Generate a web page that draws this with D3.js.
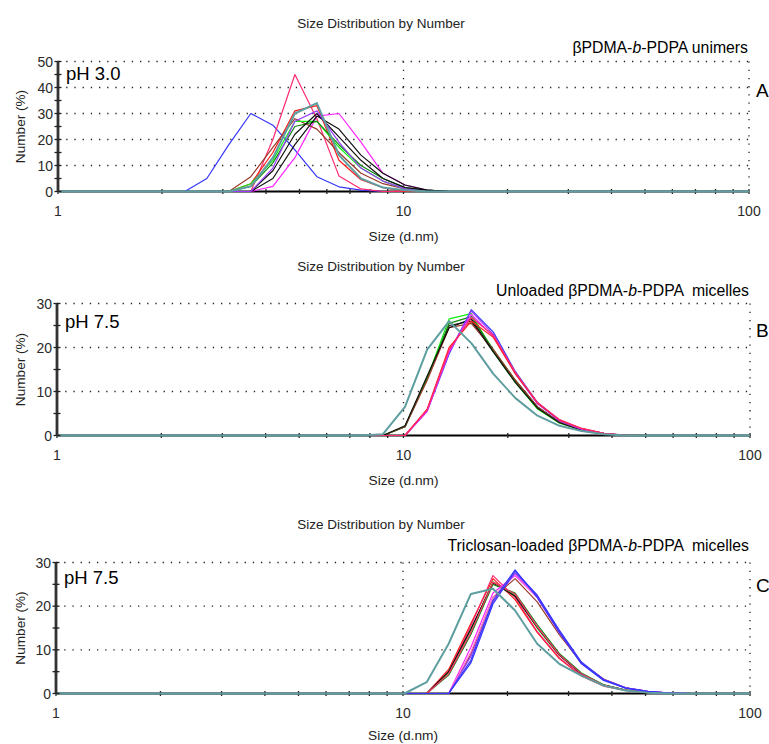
<!DOCTYPE html>
<html><head><meta charset="utf-8">
<script src="https://cdn.jsdelivr.net/npm/d3@7"></script>
<style>body{margin:0;background:#fff}svg{display:block}text{font-family:"Liberation Sans",Arial,sans-serif}</style>
</head><body><svg id="chart" width="769" height="744"></svg>
<script>
// Malvern size bins (d.nm)
const sizes = [0.9649,1.117,1.294,1.499,1.736,2.010,2.328,2.696,3.122,3.615,4.187,4.849,5.615,6.503,7.531,8.721,10.10,11.70,13.54,15.69,18.17,21.04,24.36,28.21,32.67,37.84,43.82,50.75,58.77,68.06,78.82,91.28,105.7];
const xMinorTicks = [1,2,3,4,5,6,7,8,9,10,20,30,40,50,60,70,80,90,100];
const xTickLabels = [1,10,100];
const xGrid = [10,100];
const yTicksA = [0,10,20,30,40,50];
const yTicksBC = [0,10,20,30];

// Panel A: unimers pH 3.0
const colorsA = ["blue","pink","magenta","red","brown","lime","darkgreen","black","black","purple","teal"];
const startA  = [2.328,3.615,3.615,3.122,3.122,3.122,3.122,3.615,3.615,3.615,3.122];
const valuesA = [
  [0,5,18,30,25.5,16,5.7,1.8,0.5,0],
  [0,20,45,28,6,1,0],
  [0,2,13,29,30,19,7,2.5,0.5,0],
  [0,3,15,31,33,12,4.5,1.5,0],
  [0,5.7,17,28,24,15,7,3,1,0],
  [0,3,12,27,27,17,9,4,1,0],
  [0,2,11,25,27,18,10,5,1.5,0.5,0],
  [0,8,22,30,21,12,5,1.5,0.5,0],
  [0,5,18,29,24,14,7,2.5,0.5,0],
  [0,9,27,31,19,9,4,1,0],
  [0,2,13,30,34,14,5,1.5,0.5,0]
];

// Panel B: unloaded micelles pH 7.5
const colorsB = ["black","lime","darkgreen","brown","black","blue","purple","magenta","red","pink","teal"];
const startB  = [8.721,8.721,8.721,8.721,8.721,10.10,10.10,10.10,10.10,10.10,8.721];
const valuesB = [
  [0,2,13,25,26,19,12.5,6.5,3,1.3,0.4,0],
  [0,2,13,26.5,27.7,19,12,6,2.8,1.2,0.4,0],
  [0,2,13,25.5,27,19.5,12.5,6.5,3,1.3,0.4,0],
  [0,2,12.5,24.5,25.5,19.5,12.5,6.5,3,1.4,0.5,0.1,0],
  [0,2.2,13.5,24.5,26.5,19,12,6.2,2.9,1.2,0.4,0],
  [0,5.5,18.5,28.6,23.5,14.5,7.5,3.4,1.5,0.5,0],
  [0,5.7,19,28.3,23,14,7.2,3.3,1.4,0.5,0],
  [0,5.5,19,27.5,22.5,14.2,7.3,3.5,1.5,0.5,0],
  [0,6,20,26,22.3,14,7.4,3.5,1.6,0.5,0],
  [0,5.8,19.5,26.8,22.8,14.3,7.5,3.6,1.6,0.5,0],
  [0.3,6.5,19.5,26,21,14,8.5,4.5,2.2,1,0.3,0]
];

// Panel C: triclosan-loaded micelles pH 7.5
const colorsC = ["red","pink","lime","black","darkgreen","pink","brown","magenta","lightpink","purple","blue","blue","teal"];
const startC  = [11.70,11.70,11.70,11.70,11.70,11.70,13.54,13.54,13.54,13.54,13.54,13.54,10.10];
const valuesC = [
  [0,5.5,16,26.3,21.5,14,8,4,1.7,0.7,0.2,0],
  [0,5,15.5,27,22,14.2,8.2,4.1,1.8,0.7,0.2,0],
  [0,4.8,14.5,25.6,22.5,15,8.8,4.5,2,0.8,0.2,0],
  [0,5,14.8,25.3,22.3,15.2,8.8,4.4,1.9,0.8,0.2,0],
  [0,4.2,13.5,25,23,15.8,9.2,4.7,2,0.8,0.3,0],
  [0,4.5,14,25.5,22.8,15.3,8.9,4.5,1.9,0.8,0.2,0],
  [0,9,22,26.3,21,13.5,7,3.3,1.3,0.5,0.1,0],
  [0,10.6,23,27,22,14,7,3.2,1.3,0.5,0.1,0],
  [0,9.5,22,27.5,22,14,7,3.2,1.3,0.5,0.1,0],
  [0,8.5,21,27.5,22.5,14.2,7,3.2,1.3,0.5,0.1,0],
  [0,7.6,21.3,28.3,22,14,6.8,3,1.2,0.4,0.1,0],
  [0,7,20.5,28,22.5,14.5,7.2,3.2,1.3,0.5,0.1,0],
  [0,2.6,11.4,22.8,24,19,11.4,6.8,4.1,1.8,0.7,0.2,0]
];

const subtitleA = ["βPDMA-","b","-PDPA unimers"];
const subtitleB = ["Unloaded βPDMA-","b","-PDPA  micelles"];
const subtitleC = ["Triclosan-loaded βPDMA-","b","-PDPA  micelles"];

const palette = {blue:"#3535ff",pink:"#ff2a6d",magenta:"#ff22ff",red:"#ff1a1a",brown:"#9a3a2a",
  lime:"#11ee11",darkgreen:"#118811",black:"#111111",purple:"#9a3cff",teal:"#5f9ea0",lightpink:"#ff77cc"};

const panels = [
  {colors:colorsA,starts:startA,values:valuesA,yTicks:yTicksA,yMax:50,sub:subtitleA,ph:"pH 3.0",letter:"A",
   left:58,right:749,top:61.5,bottom:191.5,titleY:23,subY:47,phY:73,letterX:756,letterY:90,sizeY:236},
  {colors:colorsB,starts:startB,values:valuesB,yTicks:yTicksBC,yMax:30,sub:subtitleB,ph:"pH 7.5",letter:"B",
   left:57,right:750,top:303.5,bottom:435.5,titleY:266,subY:290,phY:321,letterX:756,letterY:330,sizeY:480},
  {colors:colorsC,starts:startC,values:valuesC,yTicks:yTicksBC,yMax:30,sub:subtitleC,ph:"pH 7.5",letter:"C",
   left:56,right:750,top:562.5,bottom:693.5,titleY:524,subY:545,phY:577,letterX:756,letterY:585,sizeY:735}
];

const svg = d3.select("#chart");

panels.forEach((p,pi)=>{
  const x = d3.scaleLog().domain([1,100]).range([p.left,p.right]);
  const y = d3.scaleLinear().domain([0,p.yMax]).range([p.bottom,p.top]);
  const g = svg.append("g");
  const clipId = "clip"+pi;
  svg.append("clipPath").attr("id",clipId).append("rect")
    .attr("x",p.left).attr("y",p.top-5).attr("width",p.right-p.left).attr("height",p.bottom-p.top+10);

  // dotted grid
  g.selectAll(".hg").data(p.yTicks.filter(d=>d>0)).enter().append("line")
    .attr("x1",p.left).attr("x2",p.right).attr("y1",d=>y(d)).attr("y2",d=>y(d))
    .attr("stroke","#222").attr("stroke-width",1.3).attr("stroke-dasharray","1.3 6.9");
  g.selectAll(".vg").data(xGrid).enter().append("line")
    .attr("x1",d=>x(d)).attr("x2",d=>x(d)).attr("y1",p.top).attr("y2",p.bottom)
    .attr("stroke","#222").attr("stroke-width",1.3).attr("stroke-dasharray","1.3 6.9");

  // x axis line
  g.append("line").attr("x1",p.left).attr("x2",p.right).attr("y1",y(0)).attr("y2",y(0))
    .attr("stroke","#000").attr("stroke-width",2);
  // x minor ticks
  g.selectAll(".xt").data(xMinorTicks).enter().append("line")
    .attr("x1",d=>x(d)).attr("x2",d=>x(d)).attr("y1",y(0)-2.5).attr("y2",y(0)+2.5)
    .attr("stroke","#222").attr("stroke-width",1.3);

  // series
  const line = d3.line().x(d=>x(d[0])).y(d=>y(d[1]));
  const sg = g.append("g").attr("clip-path",`url(#${clipId})`);
  p.values.forEach((vals,si)=>{
    const s0 = sizes.indexOf(p.starts[si]);
    const pts = sizes.map((sz,i)=>{
      const k = i - s0;
      return [sz, (k>=0 && k<vals.length) ? vals[k] : 0];
    });
    const isLast = si === p.values.length-1;
    sg.append("path").attr("d",line(pts)).attr("fill","none")
      .attr("stroke",palette[p.colors[si]]).attr("stroke-width",isLast?2:1.2).attr("stroke-linejoin","round");
  });

  // y axis
  g.append("line").attr("x1",p.left).attr("x2",p.left).attr("y1",p.top).attr("y2",p.bottom)
    .attr("stroke","#333").attr("stroke-width",2.8);
  g.selectAll(".ym").data(d3.range(0,p.yMax+0.1,5)).enter().append("line")
    .attr("x1",p.left-3.5).attr("x2",p.left+3.5).attr("y1",d=>y(d)).attr("y2",d=>y(d))
    .attr("stroke","#222").attr("stroke-width",1.3);
  g.selectAll(".yl").data(p.yTicks).enter().append("text")
    .attr("x",p.left-5).attr("y",d=>y(d)).attr("dy","0.36em").attr("text-anchor","end")
    .attr("font-size",14).attr("fill","#2a2a2a").text(d=>d);

  // x tick labels
  g.selectAll(".xl").data(xTickLabels).enter().append("text")
    .attr("x",d=>x(d)).attr("y",p.bottom+19).attr("dy","0.36em").attr("text-anchor","middle")
    .attr("font-size",14).attr("fill","#2a2a2a").text(d=>d);

  // axis titles
  g.append("text").attr("x",x(10)).attr("y",p.sizeY).attr("dy","0.36em").attr("text-anchor","middle")
    .attr("font-size",13.7).attr("fill","#222").text("Size (d.nm)");
  g.append("text").attr("transform",`translate(20,${(p.top+p.bottom)/2}) rotate(-90)`)
    .attr("dy","0.36em").attr("text-anchor","middle").attr("font-size",13.6).attr("fill","#222").text("Number (%)");

  // panel title
  g.append("text").attr("x",381).attr("y",p.titleY).attr("dy","0.36em").attr("text-anchor","middle")
    .attr("font-size",13.5).attr("fill","#222").text("Size Distribution by Number");
  // subtitle
  const st = g.append("text").attr("x",p.right-1).attr("y",p.subY).attr("dy","0.36em").attr("text-anchor","end")
    .attr("font-size",15.8).attr("fill","#000").style("white-space","pre");
  st.append("tspan").text(p.sub[0]);
  st.append("tspan").attr("font-style","italic").text(p.sub[1]);
  st.append("tspan").text(p.sub[2]);
  // pH label
  g.append("text").attr("x",p.left+8).attr("y",p.phY).attr("dy","0.36em")
    .attr("font-size",18.5).attr("fill","#000").text(p.ph);
  // panel letter
  g.append("text").attr("x",p.letterX).attr("y",p.letterY).attr("dy","0.36em")
    .attr("font-size",19).attr("fill","#000").text(p.letter);
});
</script></body></html>
